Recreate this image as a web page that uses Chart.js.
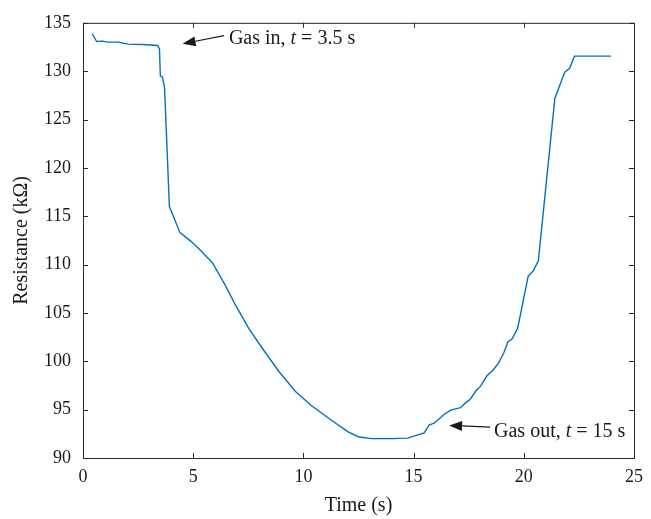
<!DOCTYPE html>
<html>
<head>
<meta charset="utf-8">
<script src="https://cdn.jsdelivr.net/npm/chart.js@4"></script>
<style>
  html, body { margin: 0; padding: 0; background: #fff; }
  #wrap { width: 651px; height: 519px; }
</style>
</head>
<body>
<div id="wrap"><canvas id="myChart" width="651" height="519"></canvas></div>
<script>
// temps (s) et résistance (kOhm)
const timeS = [0.42, 0.62, 0.9, 1.1, 1.59, 2.04, 2.7, 3.39, 3.47, 3.51, 3.6, 3.7, 3.92, 4.4, 4.9, 5.27,
    5.87, 6.47, 6.92, 7.52, 8.12, 8.87, 9.63, 10.37, 11.27, 12.03, 12.48, 13.08, 14.0, 14.73, 15.48,
    15.7, 15.93, 16.38, 16.68, 17.13, 17.36, 17.58, 17.81, 18.03, 18.33, 18.63, 18.85, 19.09, 19.28,
    19.46, 19.72, 20.2, 20.43, 20.66, 21.41, 21.86, 22.08, 22.3, 23.96];
const resistance = [133.85, 133.06, 133.1, 133.0, 133.0, 132.8, 132.75, 132.65, 132.3, 129.5, 129.4, 128.3,
    116.0, 113.3, 112.4, 111.6, 110.2, 107.8, 105.8, 103.4, 101.4, 99.0, 96.9, 95.4, 93.9, 92.7, 92.2,
    92.0, 92.0, 92.05, 92.6, 93.4, 93.6, 94.5, 94.95, 95.2, 95.7, 96.1, 96.9, 97.4, 98.5, 99.15, 99.8,
    100.85, 102.0, 102.3, 103.4, 108.8, 109.35, 110.4, 127.2, 129.9, 130.3, 131.55, 131.55];
const xTicks = [0, 5, 10, 15, 20, 25];
const yTicks = [90, 95, 100, 105, 110, 115, 120, 125, 130, 135];

// annotations : pointe de la flèche, départ de la flèche, début du texte (coordonnées des données)
const notes = [
    { tip: [4.52, 132.83], tail: [6.4, 133.67], text: [6.62, 132.76], parts: ['Gas in, ', 't', ' = 3.5 s'] },
    { tip: [16.61, 93.37], tail: [18.47, 93.2], text: [18.65, 92.17], parts: ['Gas out, ', 't', ' = 15 s'] }
];

const FONT = '"Liberation Serif", "Times New Roman", serif';
const AXIS_COLOR = '#262626';

const boxPlugin = {
    id: 'boxPlugin',
    afterDraw(chart) {
        const ctx = chart.ctx;
        const a = chart.chartArea;
        const xs = chart.scales.x, ys = chart.scales.y;
        ctx.save();
        ctx.strokeStyle = AXIS_COLOR;
        ctx.lineWidth = 1;
        ctx.strokeRect(a.left + 0.5, a.top + 0.5, a.right - a.left, a.bottom - a.top);
        ctx.beginPath();
        const len = 5;
        xTicks.forEach(v => {
            const px = Math.round(xs.getPixelForValue(v)) + 0.5;
            ctx.moveTo(px, a.bottom); ctx.lineTo(px, a.bottom - len);
            ctx.moveTo(px, a.top); ctx.lineTo(px, a.top + len);
        });
        yTicks.forEach(v => {
            const py = Math.round(ys.getPixelForValue(v)) + 0.5;
            ctx.moveTo(a.left, py); ctx.lineTo(a.left + len, py);
            ctx.moveTo(a.right, py); ctx.lineTo(a.right - len, py);
        });
        ctx.stroke();

        // flèches + textes
        notes.forEach(n => {
            const tx = xs.getPixelForValue(n.tip[0]), ty = ys.getPixelForValue(n.tip[1]);
            const sx = xs.getPixelForValue(n.tail[0]), sy = ys.getPixelForValue(n.tail[1]);
            const ang = Math.atan2(ty - sy, tx - sx);
            const head = 13, half = 5;
            const bx = tx - head * Math.cos(ang), by = ty - head * Math.sin(ang);
            ctx.strokeStyle = '#1a1a1a';
            ctx.fillStyle = '#1a1a1a';
            ctx.lineWidth = 1.2;
            ctx.beginPath();
            ctx.moveTo(sx, sy); ctx.lineTo(bx, by);
            ctx.stroke();
            ctx.beginPath();
            ctx.moveTo(tx, ty);
            ctx.lineTo(bx - half * Math.sin(ang), by + half * Math.cos(ang));
            ctx.lineTo(bx + half * Math.sin(ang), by - half * Math.cos(ang));
            ctx.closePath();
            ctx.fill();

            let x = xs.getPixelForValue(n.text[0]);
            const y = ys.getPixelForValue(n.text[1]);
            ctx.textBaseline = 'alphabetic';
            ctx.textAlign = 'left';
            n.parts.forEach((p, i) => {
                ctx.font = (i === 1 ? 'italic ' : '') + '20px ' + FONT;
                ctx.fillText(p, x, y);
                x += ctx.measureText(p).width;
            });
        });
        ctx.restore();
    }
};

const ctx = document.getElementById('myChart').getContext('2d');
new Chart(ctx, {
    type: 'line',
    data: {
        datasets: [{
            label: 'Resistance',
            data: timeS.map((t, i) => ({ x: t, y: resistance[i] })),
            borderColor: '#0072BD',
            borderWidth: 1.4,
            pointRadius: 0,
            tension: 0,
            fill: false
        }]
    },
    options: {
        responsive: false,
        animation: false,
        layout: { padding: { top: 17, right: 13, left: 0, bottom: 0 } },
        plugins: { legend: { display: false }, tooltip: { enabled: false } },
        scales: {
            x: {
                type: 'linear',
                min: 0, max: 25,
                afterFit: s => { s.height = 61; },
                afterBuildTicks: s => { s.ticks = xTicks.map(v => ({ value: v })); },
                grid: { display: false, drawTicks: false },
                border: { display: false },
                ticks: { color: '#1a1a1a', padding: 8, font: { family: FONT, size: 18 } },
                title: { display: true, text: 'Time (s)', color: '#1a1a1a', padding: { top: 0, bottom: 1 }, font: { family: FONT, size: 20 } }
            },
            y: {
                min: 90, max: 135,
                afterFit: s => { s.width = 83; },
                afterBuildTicks: s => { s.ticks = yTicks.map(v => ({ value: v })); },
                grid: { display: false, drawTicks: false },
                border: { display: false },
                ticks: { color: '#1a1a1a', padding: 12, font: { family: FONT, size: 18 } },
                title: { display: true, text: 'Resistance (kΩ)', color: '#1a1a1a', padding: { top: 10, bottom: 0 }, font: { family: FONT, size: 20 } }
            }
        }
    },
    plugins: [boxPlugin]
});
</script>
</body>
</html>
